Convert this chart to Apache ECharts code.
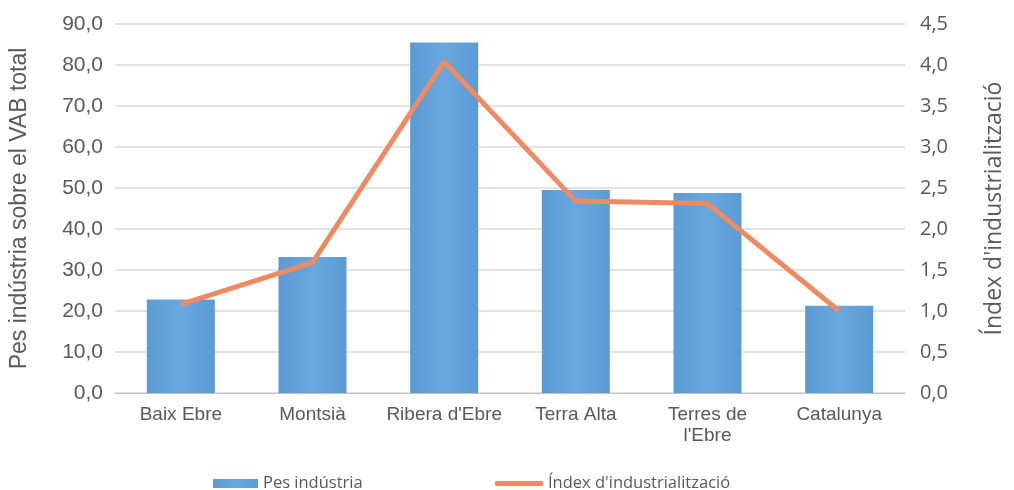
<!DOCTYPE html>
<html>
<head>
<meta charset="utf-8">
<script src="https://cdn.jsdelivr.net/npm/echarts@6/dist/echarts.min.js"></script>
<style>html,body{margin:0;padding:0;background:#fff}#c{width:1014px;height:490px}</style>
</head>
<body>
<div id="c"></div>
<script>
const categories = ["Baix Ebre", "Montsià", "Ribera d'Ebre", "Terra Alta", "Terres de\nl'Ebre", "Catalunya"];
const pesIndustria = [22.8, 33.2, 85.5, 49.5, 48.8, 21.3];
const indexIndustrialitzacio = [1.08, 1.59, 4.04, 2.34, 2.31, 1.0];
const leftTicks = { min: 0, max: 90, interval: 10 };
const rightTicks = { min: 0, max: 4.5, interval: 0.5 };

const chart = echarts.init(document.getElementById('c'));
const comma = (d) => (v) => v.toFixed(d).replace('.', ',');
const sans = "'Liberation Sans', Arial, sans-serif";
chart.setOption({
  animation: false,
  grid: { left: 110, right: 96, top: 24, bottom: 97 },
  legend: [
    { data: [{ name: 'Pes indústria', icon: 'rect' }], left: 208, top: 470, itemWidth: 45, itemHeight: 9, itemGap: 4,
      textStyle: { fontFamily: 'Open Sans', fontSize: 16.5, color: '#595959' } },
    { data: [{ name: "Índex d'industrialització", icon: 'roundRect' }], left: 490, top: 470, itemWidth: 48, itemHeight: 5, itemGap: 2,
      textStyle: { fontFamily: 'Open Sans', fontSize: 16.5, color: '#595959' } }
  ],
  xAxis: {
    type: 'category', data: categories,
    axisLine: { lineStyle: { color: '#bfbfbf', width: 1 } },
    axisTick: { show: false },
    axisLabel: { interval: 0, fontFamily: sans, fontSize: 19, color: '#595959', margin: 11, lineHeight: 21 }
  },
  yAxis: [
    { type: 'value', min: leftTicks.min, max: leftTicks.max, interval: leftTicks.interval,
      name: 'Pes indústria sobre el VAB total', nameLocation: 'middle', nameGap: 84, nameRotate: 90,
      nameTextStyle: { fontFamily: sans, fontSize: 23, color: '#595959' },
      axisLabel: { formatter: comma(1), fontFamily: sans, fontSize: 21, color: '#595959', margin: 12 },
      axisLine: { show: false }, axisTick: { show: false },
      splitLine: { lineStyle: { color: '#d9d9d9', width: 1.5 } } },
    { type: 'value', min: rightTicks.min, max: rightTicks.max, interval: rightTicks.interval,
      name: "Índex d'industrialització", nameLocation: 'middle', nameGap: 78, nameRotate: 90,
      nameTextStyle: { fontFamily: 'Open Sans', fontSize: 23, color: '#595959' },
      axisLabel: { formatter: comma(1), fontFamily: 'Open Sans', fontSize: 20, color: '#595959', margin: 15 },
      axisLine: { show: false }, axisTick: { show: false }, splitLine: { show: false } }
  ],
  series: [
    { name: 'Pes indústria', type: 'bar', data: pesIndustria, barWidth: 68,
      itemStyle: { color: new echarts.graphic.LinearGradient(0, 0, 1, 0, [
        { offset: 0, color: '#5b9bd5' }, { offset: 0.5, color: '#6aa7de' }, { offset: 1, color: '#5b9bd5' }]) } },
    { name: "Índex d'industrialització", type: 'line', yAxisIndex: 1, data: indexIndustrialitzacio,
      symbol: 'none', lineStyle: { color: '#ef8a62', width: 5 }, itemStyle: { color: '#ef8a62' } }
  ]
});
</script>
</body>
</html>
